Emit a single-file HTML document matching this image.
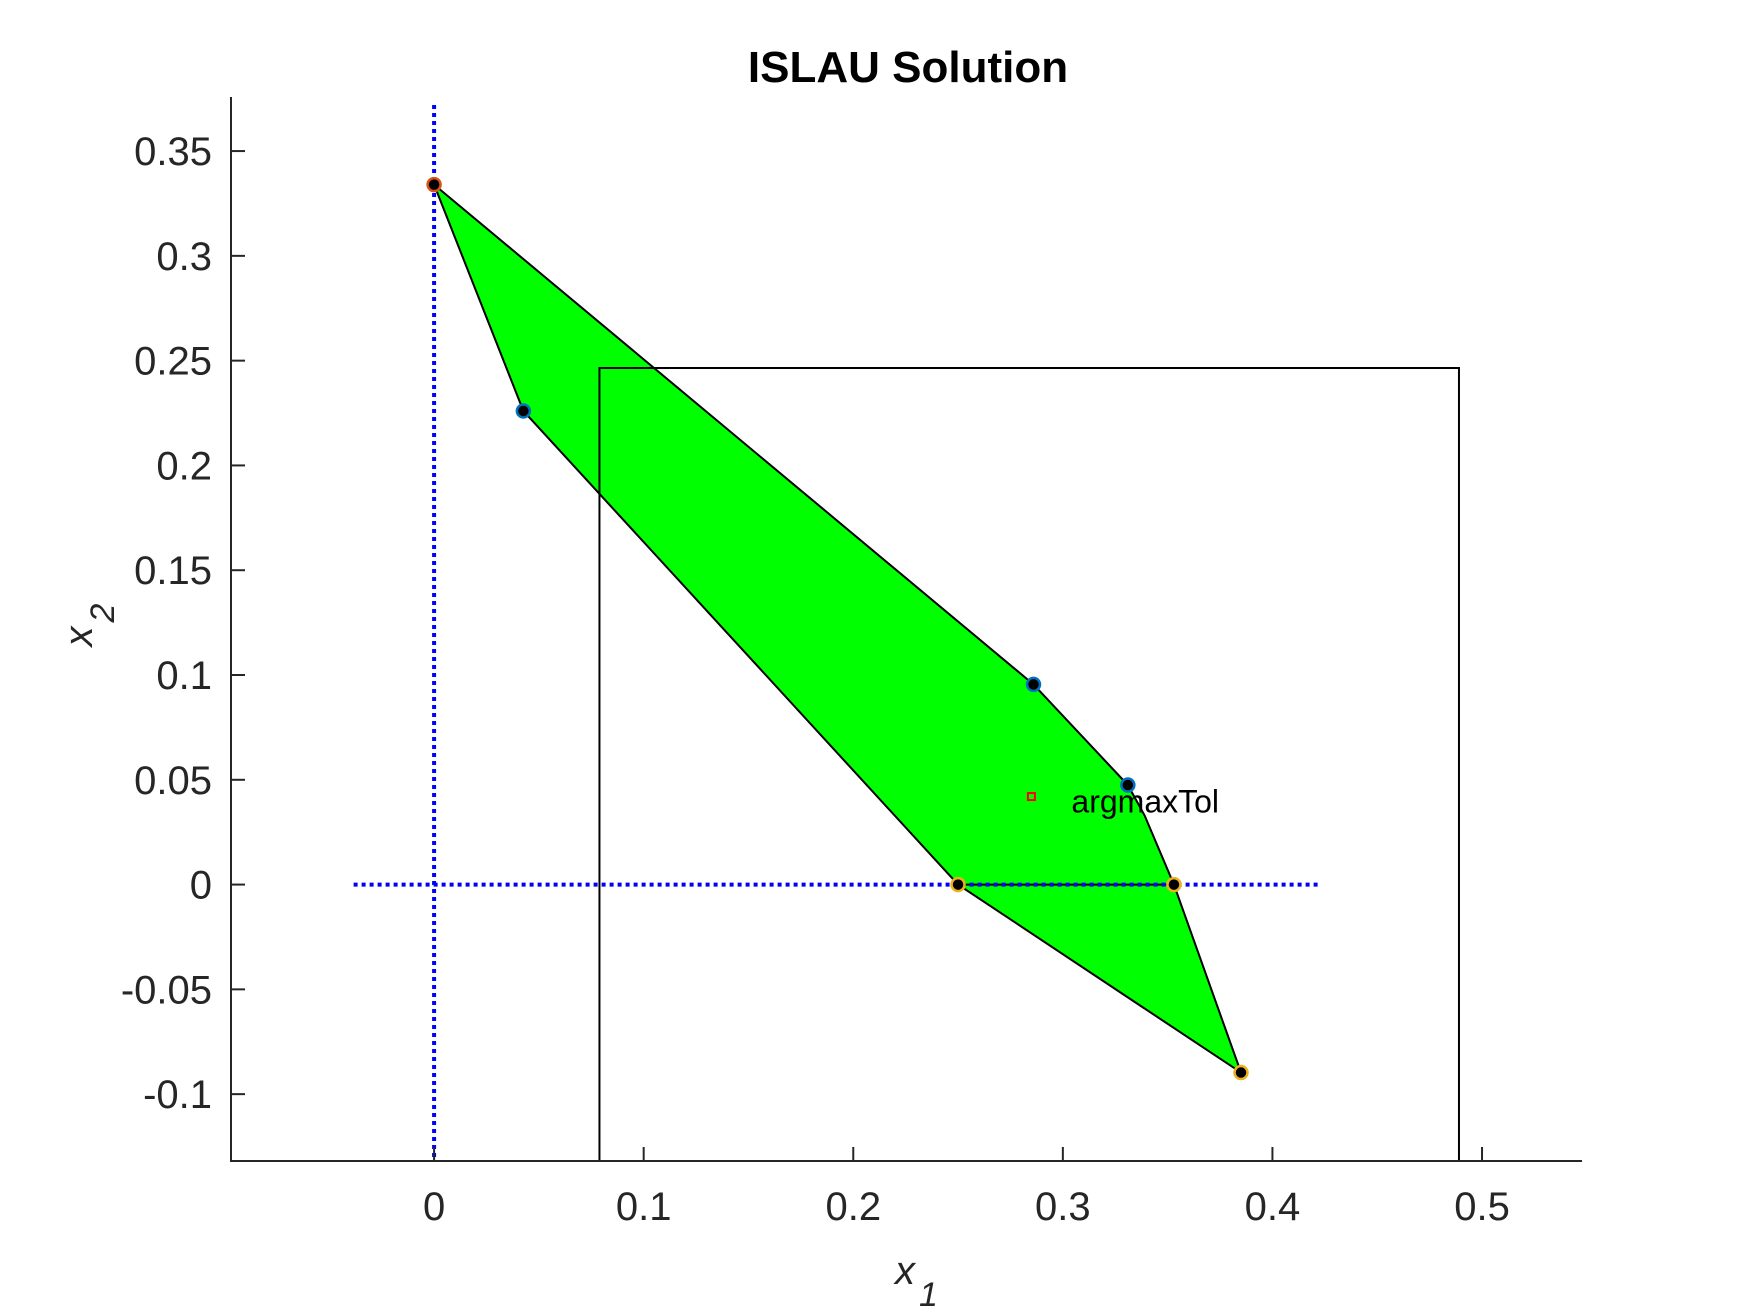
<!DOCTYPE html>
<html><head><meta charset="utf-8"><style>
html,body{margin:0;padding:0;background:#fff;}
svg{display:block;font-family:"Liberation Sans",Arial,sans-serif;}
</style></head><body>
<svg id="chart" width="1750" height="1313" viewBox="0 0 1750 1313">
<text x="908" y="82" text-anchor="middle" font-size="44" font-weight="bold" fill="#000">ISLAU Solution</text>
<g id="plot"></g>
<g id="axes"></g>
<text x="895" y="1284" font-size="40" font-style="italic" fill="#262626">x<tspan font-size="34" dx="4" dy="22">1</tspan></text>
<text transform="translate(92,625) rotate(-90)" text-anchor="middle" font-size="40" font-style="italic" fill="#262626">x<tspan font-size="34" dx="4" dy="22">2</tspan></text>
</svg>
<script>
const xTicks=[0,0.1,0.2,0.3,0.4,0.5];
const yTicks=[-0.1,-0.05,0,0.05,0.1,0.15,0.2,0.25,0.3,0.35];
const yTickLabels=["-0.1","-0.05","0","0.05","0.1","0.15","0.2","0.25","0.3","0.35"];
const polyX=[0,0.0426,0.25,0.385,0.353,0.339,0.331,0.286];
const polyY=[0.334,0.226,0,-0.0897,0,0.033,0.0475,0.0955];
const vertexX=[0,0.0426,0.25,0.385,0.353,0.331,0.286];
const vertexY=[0.334,0.226,0,-0.0897,0,0.0475,0.0955];
const vertexEdge=["#D95319","#0072BD","#EDB120","#EDB120","#EDB120","#0072BD","#0072BD"];
const boxX=[0.0789,0.489];
const boxY=[-0.1319,0.2465];
const argmax=[0.285,0.042];
const xLim=[-0.0969,0.5477];
const yLim=[-0.1319,0.3758];
const NS='http://www.w3.org/2000/svg';
const L=231,R=1582,T=97,B=1161;
function X(v){return L+(v-xLim[0])/(xLim[1]-xLim[0])*(R-L);}
function Y(v){return B-(v-yLim[0])/(yLim[1]-yLim[0])*(B-T);}
function mk(parent,tag,attrs){const e=document.createElementNS(NS,tag);for(const k in attrs)e.setAttribute(k,attrs[k]);parent.appendChild(e);return e;}
const plot=document.getElementById('plot'),axes=document.getElementById('axes');
const poly=mk(plot,'polygon',{points:polyX.map((x,i)=>X(x)+','+Y(polyY[i])).join(' '),fill:'#00FF00',stroke:'#000','stroke-width':2});


const zl=mk(plot,'line',{x1:X(vertexX[2]),y1:Y(0),x2:X(vertexX[4]),y2:Y(0),stroke:'#000','stroke-width':2});


const box=mk(plot,'polyline',{points:`${X(boxX[0])},${Y(boxY[0])} ${X(boxX[0])},${Y(boxY[1])} ${X(boxX[1])},${Y(boxY[1])} ${X(boxX[1])},${Y(boxY[0])}`,fill:'none',stroke:'#000','stroke-width':2});


const vl=mk(plot,'line',{x1:X(0),y1:T+8,x2:X(0),y2:B,stroke:'#0000FF','stroke-width':4,'stroke-dasharray':'4 4'});


const hl=mk(plot,'line',{x1:X(-0.0384),y1:Y(0),x2:X(0.4216),y2:Y(0),stroke:'#0000FF','stroke-width':4,'stroke-dasharray':'4 4'});


vertexX.forEach((x,i)=>{const c=mk(plot,'circle',{cx:X(x),cy:Y(vertexY[i]),r:6.5,fill:'#000',stroke:vertexEdge[i],'stroke-width':2.5});

});
const am=mk(plot,'rect',{x:X(argmax[0])-3.5,y:Y(argmax[1])-3.5,width:7,height:7,fill:'none',stroke:'#FF0000','stroke-width':2});


const at=mk(plot,'text',{x:X(argmax[0])+40,y:Y(argmax[1])+16,'font-size':32,fill:'#000'});
at.textContent='argmaxTol';


const ax=mk(axes,'path',{d:`M${L},${T} L${L},${B} L${R},${B}`,fill:'none',stroke:'#262626','stroke-width':2});


xTicks.forEach(v=>{const t=mk(axes,'line',{x1:X(v),y1:B,x2:X(v),y2:B-14,stroke:'#262626','stroke-width':2});


const lb=mk(axes,'text',{x:X(v),y:1220,'text-anchor':'middle','font-size':40,fill:'#262626'});lb.textContent=String(v);

});
yTicks.forEach((v,i)=>{const t=mk(axes,'line',{x1:L,y1:Y(v),x2:L+14,y2:Y(v),stroke:'#262626','stroke-width':2});


const lb=mk(axes,'text',{x:L-19,y:Y(v)+14,'text-anchor':'end','font-size':40,fill:'#262626'});lb.textContent=yTickLabels[i];

});
</script>
</body></html>
